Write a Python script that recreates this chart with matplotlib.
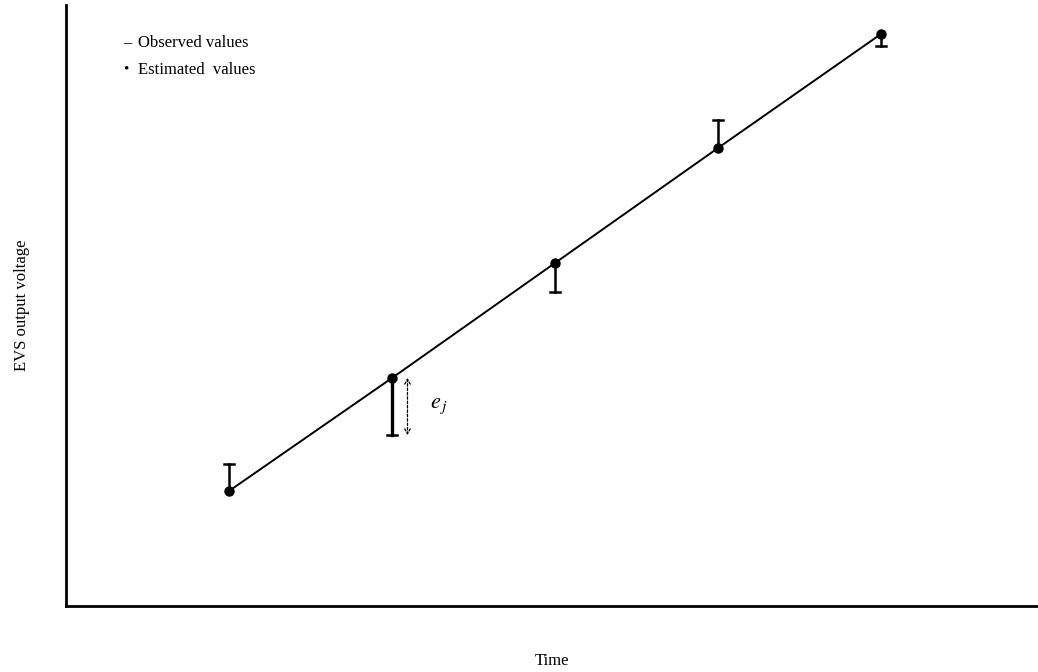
import matplotlib
matplotlib.use('Agg')
import matplotlib.pyplot as plt

# sample instants and voltages (arbitrary units)
time = [1, 2, 3, 4, 5]
estimated = [1.15, 2.28, 3.43, 4.58, 5.72]
observed = [1.42, 1.71, 3.14, 4.86, 5.60]

plt.rcParams['font.family'] = ['Liberation Serif', 'DejaVu Serif']
plt.rcParams['mathtext.fontset'] = 'stix'

fig = plt.figure(figsize=(10.38, 6.72), dpi=100)
ax = fig.add_axes([66 / 1038, 66 / 672, 972 / 1038, 601 / 672])
ax.set_xlim(0, 972 / 163)
ax.set_ylim(0, 6.01)

# fitted line through the estimates
ax.plot(time, estimated, color='black', lw=1.4, zorder=2)
ax.plot(time, estimated, 'o', color='black', ms=6.5, zorder=3)

# deviation of each observation from its estimate
for i, (t, e, o) in enumerate(zip(time, estimated, observed)):
    lw = 2.4 if i == 1 else 1.8
    ax.plot([t, t], [e, o], color='black', lw=lw, zorder=2)
    ax.plot([t - 0.032, t + 0.032], [o, o], color='black', lw=1.8, zorder=2)

# residual marker e_j next to the second sample
xa = time[1] + 0.095
ax.annotate('', xy=(xa, observed[1]), xytext=(xa, estimated[1]),
            arrowprops=dict(arrowstyle='<->,head_length=0.35,head_width=0.2',
                            color='black', lw=0.9,
                            linestyle=(0, (2, 1.5)), shrinkA=0, shrinkB=0))
ax.text(xa + 0.14, (estimated[1] + observed[1]) / 2, r'$e_{\,j}$',
        fontsize=16, va='center', ha='left')

# key
ax.text(0.35, 5.63, '\u2013', fontsize=12, va='center')
ax.text(0.44, 5.63, 'Observed values', fontsize=12, va='center')
ax.text(0.35, 5.37, '\u2022', fontsize=11, va='center')
ax.text(0.44, 5.36, 'Estimated  values', fontsize=12, va='center')

for side in ('top', 'right'):
    ax.spines[side].set_visible(False)
for side in ('left', 'bottom'):
    ax.spines[side].set_linewidth(2)
ax.set_xticks([])
ax.set_yticks([])

ax.set_xlabel('Time', fontsize=12, labelpad=34)
ax.set_ylabel('EVS output voltage', fontsize=12, labelpad=26)

fig.savefig('out.png', dpi=100)
